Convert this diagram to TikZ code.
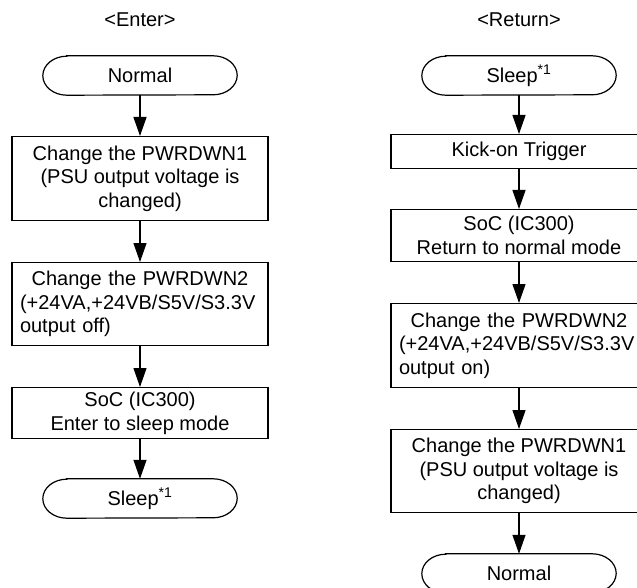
\documentclass[tikz,border=0pt]{standalone}
\usepackage{fontspec}
\setmainfont{Liberation Sans}
\usetikzlibrary{arrows.meta}
\newcommand\termshape[1]{\draw[ln] ([xshift=24pt]#1.north west) -- ([xshift=-24pt]#1.north east) arc[start angle=90,end angle=-90,x radius=24pt,y radius=19.5pt] -- ([xshift=24pt]#1.south west) arc[start angle=270,end angle=90,x radius=24pt,y radius=19.5pt] -- cycle;}
\begin{document}
\begin{tikzpicture}[x=1pt,y=-1pt,
  ln/.style={line width=1.2pt},
  txt/.style={font=\fontsize{20}{23.5}\selectfont},
  termnode/.style={txt,minimum width=194pt,minimum height=39pt,inner sep=0pt},
  pbox/.style={txt,draw,line width=1.2pt,minimum width=256pt,inner xsep=8pt,inner ysep=0pt,align=center,anchor=north},
  lbox/.style={pbox,text width=240pt,align=left},
  arr/.style={ln,-{Triangle[length=19pt,width=13pt]}}]
\useasboundingbox (0,0) rectangle (637,588);
% Left column
\node[txt] (t1) at (140,20) {<Enter>};
\node[termnode] (n1) at (140,75.5) {Normal};
\termshape{n1}
\node[pbox,minimum height=84pt] (b1) at (140,136) {Change the PWRDWN1\\(PSU output voltage is\\changed)};
\node[lbox,minimum height=83pt] (b2) at (140,262) {\makebox[240pt][c]{Change the PWRDWN2}\\(+24VA,+24VB/S5V/S3.3V\\output off)};
\node[pbox,minimum height=51pt] (b3) at (140,387) {SoC (IC300)\\Enter to sleep mode};
\node[termnode] (s1) at (140,498.5) {Sleep\textsuperscript{*1}};
\termshape{s1}
\draw[arr] (n1.south) -- (b1.north);
\draw[arr] (b1.south) -- (b2.north);
\draw[arr] (b2.south) -- (b3.north);
\draw[arr] (b3.south) -- (s1.north);
% Right column
\node[txt] (t2) at (519,20) {<Return>};
\node[termnode] (s2) at (519,75.5) {Sleep\textsuperscript{*1}};
\termshape{s2}
\node[pbox,minimum height=34pt] (r1) at (519,134) {Kick-on Trigger};
\node[pbox,minimum height=52pt] (r2) at (519,209) {SoC (IC300)\\Return to normal mode};
\node[lbox,minimum height=84pt] (r3) at (519,303) {\makebox[240pt][c]{Change the PWRDWN2}\\(+24VA,+24VB/S5V/S3.3V\\output on)};
\node[pbox,minimum height=83pt] (r4) at (519,429) {Change the PWRDWN1\\(PSU output voltage is\\changed)};
\node[termnode] (n2) at (519,573.5) {Normal};
\termshape{n2}
\draw[arr] (s2.south) -- (r1.north);
\draw[arr] (r1.south) -- (r2.north);
\draw[arr] (r2.south) -- (r3.north);
\draw[arr] (r3.south) -- (r4.north);
\draw[arr] (r4.south) -- (n2.north);
\end{tikzpicture}
\end{document}
